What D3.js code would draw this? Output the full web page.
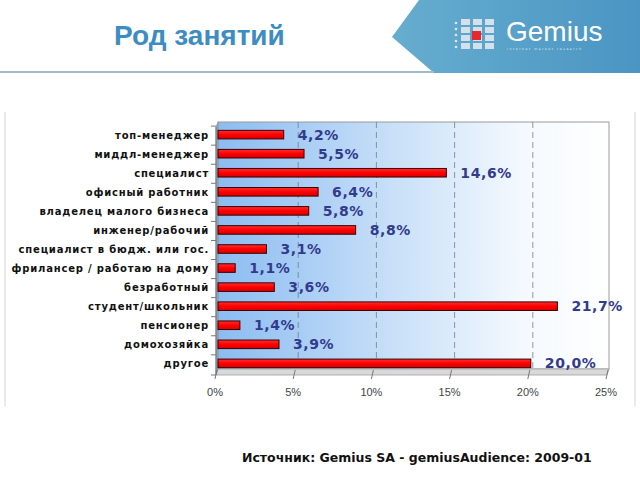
<!DOCTYPE html>
<html>
<head>
<meta charset="utf-8">
<script src="https://cdn.jsdelivr.net/npm/d3@7"></script>
<style>
  body { margin: 0; background: #fff; }
  svg { display: block; }
</style>
</head>
<body>
<svg id="chart" width="640" height="480"></svg>
<script>
// categories, top to bottom
var categories = [
    "топ-менеджер",
    "миддл-менеджер",
    "специалист",
    "офисный работник",
    "владелец малого бизнеса",
    "инженер/рабочий",
    "специалист в бюдж. или гос.",
    "фрилансер / работаю на дому",
    "безработный",
    "студент/школьник",
    "пенсионер",
    "домохозяйка",
    "другое"
];
var shares = [4.2, 5.5, 14.6, 6.4, 5.8, 8.8, 3.1, 1.1, 3.6, 21.7, 1.4, 3.9, 20.0];
var xTicks = [0, 5, 10, 15, 20, 25];

var svg = d3.select("#chart");
var defs = svg.append("defs");

// ---- header ----
var bannerGrad = defs.append("linearGradient").attr("id", "banner")
    .attr("x1", "0").attr("x2", "1").attr("y1", "0").attr("y2", "0");
bannerGrad.append("stop").attr("offset", "0").attr("stop-color", "#66adcf");
bannerGrad.append("stop").attr("offset", "1").attr("stop-color", "#4a95c3");

svg.append("path")
    .attr("d", "M419,0 L640,0 L640,73 L434,73 L392,37 Z")
    .attr("fill", "url(#banner)");

svg.append("line")
    .attr("x1", 0).attr("x2", 434).attr("y1", 72).attr("y2", 72)
    .attr("stroke", "#9fbccc").attr("stroke-width", 2);

svg.append("text")
    .attr("x", 114).attr("y", 45)
    .attr("font-family", "Liberation Sans, Arial, sans-serif")
    .attr("font-weight", "bold")
    .attr("font-size", 28)
    .attr("fill", "#3d8cc2")
    .text("Род занятий");

// logo: little grid of people + red square
var logo = svg.append("g").attr("transform", "translate(453,17)");
for (var c = 0; c < 3; c++) {
    for (var r = 0; r < 4; r++) {
        logo.append("rect")
            .attr("x", c * 12 + 8).attr("y", r * 8 + 2)
            .attr("width", 9).attr("height", 6)
            .attr("fill", "#dfe8ee").attr("opacity", 0.9);
    }
}
logo.append("rect").attr("x", 19).attr("y", 14).attr("width", 9).attr("height", 9).attr("fill", "#e8262b");
logo.selectAll("circle")
    .data([0, 1, 2, 3, 4])
    .join("circle")
    .attr("cx", 3).attr("cy", function (d) { return 6 + d * 6; })
    .attr("r", 1.3).attr("fill", "#dfe8ee");

svg.append("text")
    .attr("x", 506).attr("y", 41)
    .attr("font-family", "Liberation Sans, Arial, sans-serif")
    .attr("font-size", 28)
    .attr("fill", "#ffffff")
    .text("Gemius");
svg.append("text")
    .attr("x", 507).attr("y", 50)
    .attr("font-family", "DejaVu Sans, sans-serif")
    .attr("font-size", 3)
    .attr("letter-spacing", 1.6)
    .attr("fill", "#e6eef3")
    .text("internet   market   research");

// slide frame side lines
svg.append("line").attr("x1", 5).attr("x2", 5).attr("y1", 112).attr("y2", 406)
    .attr("stroke", "#d4d4d4").attr("stroke-width", 1);
svg.append("line").attr("x1", 635).attr("x2", 635).attr("y1", 112).attr("y2", 406)
    .attr("stroke", "#d4d4d4").attr("stroke-width", 1);

// ---- chart ----
var plot = { left: 218, right: 609, top: 122, bottom: 369 };
var depth = 6;

var x = d3.scaleLinear().domain([0, 25]).range([plot.left, plot.right]);
var y = d3.scaleBand().domain(categories).range([plot.top + 3, plot.bottom + 4]).paddingInner(0.55).paddingOuter(0.28);

var wallGrad = defs.append("linearGradient").attr("id", "wall")
    .attr("x1", "0").attr("x2", "1").attr("y1", "0").attr("y2", "0");
wallGrad.append("stop").attr("offset", "0").attr("stop-color", "#8bbcf1");
wallGrad.append("stop").attr("offset", "0.4").attr("stop-color", "#c2dcf7");
wallGrad.append("stop").attr("offset", "0.78").attr("stop-color", "#f4f9fe");
wallGrad.append("stop").attr("offset", "1").attr("stop-color", "#ffffff");

// back wall
svg.append("rect")
    .attr("x", plot.left).attr("y", plot.top)
    .attr("width", plot.right - plot.left).attr("height", plot.bottom - plot.top)
    .attr("fill", "url(#wall)")
    .attr("stroke", "#9a9a9a").attr("stroke-width", 1);

// floor
svg.append("path")
    .attr("d", "M" + plot.left + "," + plot.bottom + " L" + plot.right + "," + plot.bottom +
        " L" + (plot.right - 2) + "," + (plot.bottom + depth) + " L" + (plot.left - 2) + "," + (plot.bottom + depth) + " Z")
    .attr("fill", "#d9d9d9").attr("stroke", "#a0a0a0").attr("stroke-width", 0.8);

// side wall
svg.append("path")
    .attr("d", "M" + (plot.left - 2) + "," + (plot.top + 5) + " L" + plot.left + "," + plot.top +
        " L" + plot.left + "," + plot.bottom + " L" + (plot.left - 2) + "," + (plot.bottom + depth) + " Z")
    .attr("fill", "#7fa9d6").attr("stroke", "#9a9a9a").attr("stroke-width", 0.8);

// gridlines
svg.append("g").selectAll("line")
    .data(xTicks.slice(1, -1))
    .join("line")
    .attr("x1", function (d) { return x(d) + 2; })
    .attr("x2", function (d) { return x(d) + 2; })
    .attr("y1", plot.top)
    .attr("y2", plot.bottom)
    .attr("stroke", "#6f7f90")
    .attr("stroke-width", 0.8)
    .attr("stroke-dasharray", "6,4");

// x axis ticks (slanted) and labels
var xa = svg.append("g");
xa.selectAll("line")
    .data(xTicks)
    .join("line")
    .attr("x1", function (d) { return x(d) - 1; })
    .attr("x2", function (d) { return x(d) - 3; })
    .attr("y1", plot.bottom + 1)
    .attr("y2", plot.bottom + depth + 4)
    .attr("stroke", "#777").attr("stroke-width", 1);
xa.selectAll("text")
    .data(xTicks)
    .join("text")
    .attr("x", function (d) { return x(d) - 3; })
    .attr("y", 396)
    .attr("text-anchor", "middle")
    .attr("font-family", "Liberation Sans Narrow, Liberation Sans, Arial, sans-serif")
    .attr("font-size", 11)
    .attr("fill", "#444")
    .text(function (d) { return d + "%"; });

// y axis line + tick marks at band edges
var ya = svg.append("g");
ya.append("line")
    .attr("x1", plot.left - 2).attr("x2", plot.left - 2)
    .attr("y1", plot.top + 5).attr("y2", plot.bottom + depth)
    .attr("stroke", "#777");
var edges = categories.map(function (d) { return y(d) - y.step() * y.paddingInner() / 2 + 1; });
edges.push(plot.bottom + depth);
ya.selectAll("line.tk")
    .data(edges)
    .join("line")
    .attr("class", "tk")
    .attr("x1", plot.left - 7).attr("x2", plot.left - 2)
    .attr("y1", function (d) { return d; })
    .attr("y2", function (d) { return d; })
    .attr("stroke", "#777");

ya.selectAll("text")
    .data(categories)
    .join("text")
    .attr("x", 209)
    .attr("y", function (d) { return y(d) + y.bandwidth() / 2 + 4; })
    .attr("text-anchor", "end")
    .attr("font-family", "DejaVu Sans, Verdana, sans-serif")
    .attr("font-weight", "bold")
    .attr("font-size", 10)
    .attr("letter-spacing", 0.8)
    .attr("fill", "#111")
    .text(function (d) { return d; });

// bars
var barGrad = defs.append("linearGradient").attr("id", "bar")
    .attr("x1", "0").attr("x2", "0").attr("y1", "0").attr("y2", "1");
barGrad.append("stop").attr("offset", "0").attr("stop-color", "#ff3030");
barGrad.append("stop").attr("offset", "0.5").attr("stop-color", "#ff0000");
barGrad.append("stop").attr("offset", "1").attr("stop-color", "#d80000");

var bars = svg.append("g");
bars.selectAll("rect")
    .data(shares)
    .join("rect")
    .attr("x", x(0))
    .attr("y", function (d, i) { return y(categories[i]); })
    .attr("width", function (d) { return x(d) - x(0); })
    .attr("height", y.bandwidth())
    .attr("fill", "url(#bar)")
    .attr("stroke", "#3a0000")
    .attr("stroke-width", 1);

// value labels
svg.append("g").selectAll("text")
    .data(shares)
    .join("text")
    .attr("x", function (d) { return x(d) + 14; })
    .attr("y", function (d, i) { return y(categories[i]) + y.bandwidth() / 2 + 5; })
    .attr("font-family", "DejaVu Sans, Verdana, sans-serif")
    .attr("font-size", 14)
    .attr("font-weight", "bold")
    .attr("letter-spacing", 0.6)
    .attr("fill", "#323a8e")
    .text(function (d) { return d.toFixed(1).replace(".", ",") + "%"; });

// source
svg.append("text")
    .attr("x", 242).attr("y", 462)
    .attr("font-family", "DejaVu Sans, Verdana, sans-serif")
    .attr("font-weight", "bold")
    .attr("font-size", 12.5)
    .attr("fill", "#111")
    .text("Источник: Gemius SA - gemiusAudience: 2009-01");
</script>
</body>
</html>
